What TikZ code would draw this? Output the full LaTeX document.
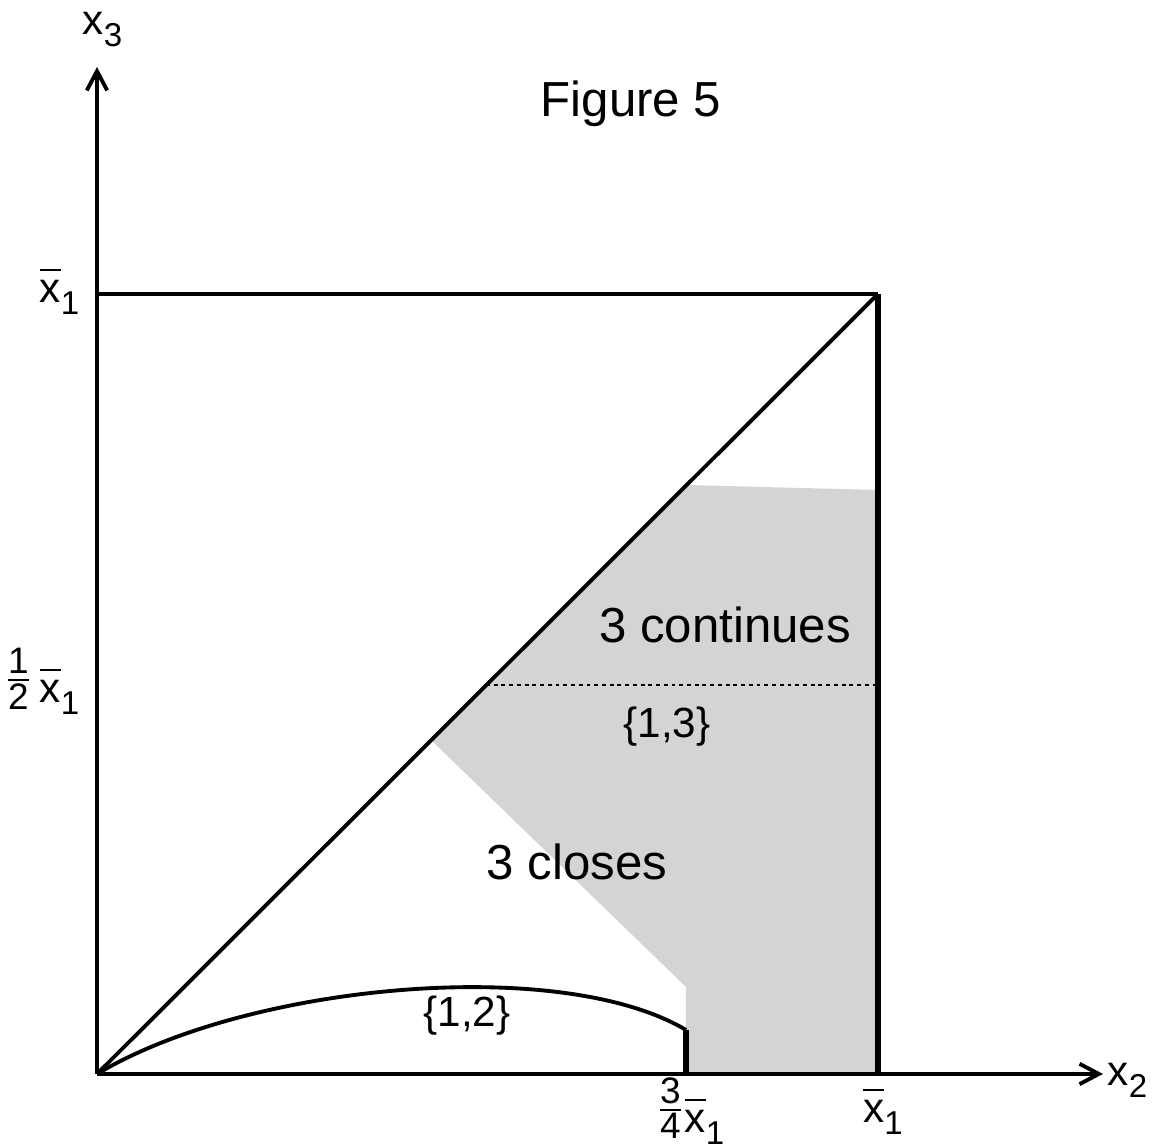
\documentclass[tikz,border=0pt]{standalone}
\usepackage{amsmath}
\usepackage{fontspec}
\setmainfont{Liberation Sans}
\usetikzlibrary{arrows.meta}
\newcommand{\xbar}{\makebox[0pt][l]{\raisebox{0.75em}{\rule{0.5em}{0.05em}}}x}
\newcommand{\lowsub}[1]{\raisebox{-0.28em}{\fontsize{9.4}{10}\selectfont #1}}
\newcommand{\smallfrac}[2]{\raisebox{0.3em}{$\genfrac{}{}{0.7pt}{1}{\text{\fontsize{10.5}{11}\selectfont #1}}{\text{\fontsize{10.5}{11}\selectfont #2}}$}}
\begin{document}
\begin{tikzpicture}[
        axis/.style={line width=1.1pt, -{Straight Barb[length=5.5pt, width=5.8pt]}},
        edge/.style={line width=1.1pt},
        thick edge/.style={line width=1.45pt},
        region/.style={fill=black!17, draw=none},
        small/.style={inner sep=0pt, font=\fontsize{12}{14}\selectfont},
        big/.style={inner sep=0pt, font=\fontsize{14}{17}\selectfont}]
    \useasboundingbox (-0.97,-0.73) rectangle (10.68,10.74);
    % key points
    \coordinate (O) at (0,0);
    \coordinate (top) at (7.81,7.8);
    \coordinate (right) at (7.81,0);
    \coordinate (left) at (0,7.8);
    \coordinate (q) at (5.89,0);
    \coordinate (qtop) at (5.89,0.44);
    % shaded region
    \fill[region] (3.34,3.34) -- (5.89,5.89) -- (7.81,5.84) -- (right) -- (q)
        -- (5.89,0.87) -- cycle;
    \draw[dash pattern=on 1.1pt off 1.1pt, line width=0.45pt] (3.89,3.89) -- (7.81,3.89);
    % axes and box
    \draw[axis] (O) -- (10.06,0);
    \draw[axis] (O) -- (0,10.07);
    \draw[edge] (left) -- (top);
    \draw[edge] (O) -- (top);
    \draw[thick edge] (right) -- (top);
    \draw[edge] (O) .. controls (1.50,0.90) and (4.63,1.19) .. (qtop);
    \draw[thick edge] (q) -- (qtop);
    % labels
    \node[small, anchor=base west] (x3) at (-0.15,10.39) {x\lowsub{3}};
    \node[small, anchor=base west] (x2) at (10.10,-0.12) {x\lowsub{2}};
    \node[small, anchor=base east] (ytop) at (-0.17,7.71) {\xbar\lowsub{1}};
    \node[small, anchor=base east] (yhalf) at (-0.17,3.71) {\smallfrac{1}{2}\,\xbar\lowsub{1}};
    \node[small, anchor=base] (xq) at (5.93,-0.59) {\smallfrac{3}{4}\xbar\lowsub{1}};
    \node[small, anchor=base] (xend) at (7.86,-0.49) {\xbar\lowsub{1}};
    \node[big, anchor=base] (title) at (5.34,9.57) {Figure 5};
    \node[big, anchor=base] (cont) at (6.28,4.31) {3 continues};
    \node[small, anchor=base] (s13) at (5.70,3.36) {\{1,3\}};
    \node[big, anchor=base] (close) at (4.80,1.94) {3 closes};
    \node[small, anchor=base] (s12) at (3.70,0.47) {\{1,2\}};
\end{tikzpicture}
\end{document}
